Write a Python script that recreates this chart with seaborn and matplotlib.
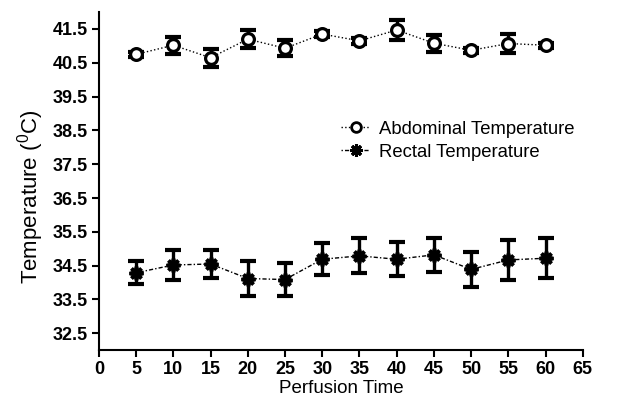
import matplotlib
matplotlib.use("Agg")
import matplotlib.pyplot as plt
import seaborn as sns
import pandas as pd
import numpy as np

time = [5, 10, 15, 20, 25, 30, 35, 40, 45, 50, 55, 60]
abdominal = [40.75, 41.02, 40.65, 41.20, 40.93, 41.35, 41.15, 41.47, 41.08, 40.87, 41.07, 41.02]
abdominal_err = [0.08, 0.25, 0.26, 0.26, 0.23, 0.08, 0.08, 0.29, 0.25, 0.08, 0.27, 0.08]
rectal = [34.29, 34.52, 34.55, 34.12, 34.09, 34.69, 34.79, 34.69, 34.82, 34.39, 34.67, 34.72]
rectal_err = [0.34, 0.44, 0.41, 0.51, 0.49, 0.48, 0.52, 0.50, 0.51, 0.51, 0.59, 0.59]
x_ticks = list(range(0, 66, 5))
y_ticks = [32.5, 33.5, 34.5, 35.5, 36.5, 37.5, 38.5, 39.5, 40.5, 41.5]

sns.set_style("ticks")
plt.rcParams['font.family'] = ['Liberation Sans', 'DejaVu Sans']
plt.rcParams['mathtext.fontset'] = 'custom'
plt.rcParams['mathtext.rm'] = 'Liberation Sans'
plt.rcParams['text.color'] = 'black'
plt.rcParams['axes.labelcolor'] = 'black'
plt.rcParams['xtick.color'] = 'black'
plt.rcParams['ytick.color'] = 'black'

fig = plt.figure(figsize=(6.22, 4.03), dpi=100)
ax = fig.add_axes([0.159, 0.131, 0.778, 0.839])

df = pd.DataFrame({
    "time": time * 2,
    "temp": abdominal + rectal,
    "series": ["Abdominal Temperature"] * len(time) + ["Rectal Temperature"] * len(time),
})

ax.errorbar(time, abdominal, yerr=abdominal_err, fmt='none', ecolor='black',
            elinewidth=2.4, capsize=6, capthick=3, zorder=2)
ax.errorbar(time, rectal, yerr=rectal_err, fmt='none', ecolor='black',
            elinewidth=2.4, capsize=6, capthick=3, zorder=2)

sns.lineplot(data=df[df.series == "Abdominal Temperature"], x="time", y="temp", ax=ax,
             color='black', linestyle=':', linewidth=1.0, marker='o', markersize=8.5,
             markerfacecolor='white', markeredgecolor='black', markeredgewidth=2.3,
             label="Abdominal Temperature", zorder=3)
sns.lineplot(data=df[df.series == "Rectal Temperature"], x="time", y="temp", ax=ax,
             color='black', linestyle=(0, (1, 1.5, 3, 1.5)), linewidth=1.0, marker=(8, 2, 0),
             markersize=10, markeredgewidth=2.6, markeredgecolor='black',
             label="Rectal Temperature", zorder=3)

ax.set_xlim(0, 65)
ax.set_ylim(32.0, 42.0)
ax.set_xticks(x_ticks)
ax.set_yticks(y_ticks)
ax.set_xticklabels([str(t) for t in x_ticks], fontsize=13, fontweight='bold')
ax.set_yticklabels([f"{v:.1f}" for v in y_ticks], fontsize=13, fontweight='bold')
ax.tick_params(direction='out', length=5, width=1.5, colors='black', pad=3)
for s in ['left', 'bottom']:
    ax.spines[s].set_linewidth(1.5)
    ax.spines[s].set_color('black')
sns.despine(ax=ax)

ax.set_xlabel("Perfusion Time", fontsize=13.5, labelpad=1)
ax.set_ylabel(r"Temperature ($\mathregular{^0}$C)", fontsize=16)
ax.yaxis.set_label_coords(-0.11, 0.453)

leg = ax.legend(loc='center left', bbox_to_anchor=(0.50, 0.62), frameon=False,
                fontsize=13.3, handlelength=1.6, handletextpad=0.45, labelspacing=0.33,
                borderaxespad=0, borderpad=0)
leg.legend_handles[0].set_markersize(7)
leg.legend_handles[0].set_markeredgewidth(2)
leg.legend_handles[1].set_markersize(9)
leg.legend_handles[1].set_markeredgewidth(2.2)

fig.savefig("out.png", dpi=100)
